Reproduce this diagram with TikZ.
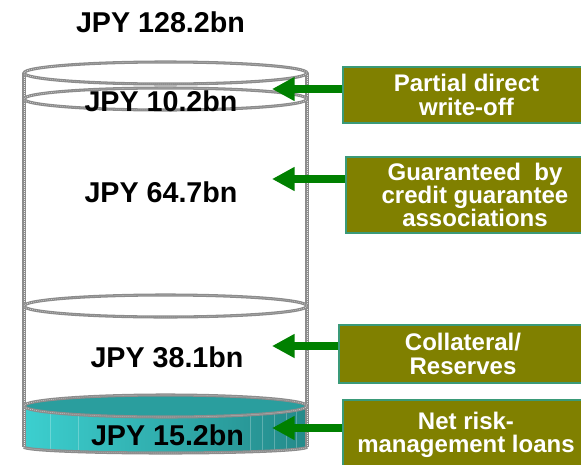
\documentclass[tikz,border=0pt]{standalone}
\usepackage{fontspec}
\setmainfont{Liberation Sans}
\usetikzlibrary{arrows.meta}
\definecolor{olivebox}{HTML}{808000}
\definecolor{boxrim}{HTML}{3A9A78}
\definecolor{arrowgreen}{HTML}{008000}
\definecolor{rimgray}{HTML}{8C8C8C}
\definecolor{discface}{HTML}{2A9E9E}
\definecolor{discleft}{HTML}{3CCFCF}
\definecolor{discright}{HTML}{248A8A}

\begin{document}
\begin{tikzpicture}[x=0.75pt,y=-0.75pt,
  rimline/.style={draw=rimgray, line width=2.3pt,
    postaction={draw=white!80!rimgray, line width=0.4pt, dash pattern=on 0.5pt off 1pt}},
  amount/.style={font=\fontsize{21.5}{24}\selectfont\bfseries, inner sep=0pt},
  tagbox/.style={fill=olivebox, draw=boxrim, line width=1.5pt, text=white,
    align=center, inner sep=0pt, font=\fontsize{18}{17.5}\selectfont\bfseries},
  pointer/.style={draw=arrowgreen, line width=6pt,
    -{Triangle[length=17pt,width=17pt]}}]
\clip (0,0) rectangle (581,464);

% teal disc at the bottom of the cylinder: side band
\fill[left color=discleft, right color=discright]
  (24,406) -- (24,447) arc[start angle=180, end angle=0, x radius=141.5, y radius=6]
  -- (307,406) arc[start angle=0, end angle=180, x radius=141.5, y radius=11] -- cycle;
\begin{scope}
  \clip (24,406) -- (24,447) arc[start angle=180, end angle=0, x radius=141.5, y radius=6]
    -- (307,406) arc[start angle=0, end angle=180, x radius=141.5, y radius=11] -- cycle;
  \foreach \sx in {50,78,250,262,274,286,296}
    \draw[white, opacity=0.25, line width=0.5pt] (\sx,400) -- (\sx,460);
\end{scope}
% top face of the disc
\fill[discface] (165.5,406) ellipse[x radius=141.5, y radius=11];

% cylinder outline
\draw[rimline] (24,73) -- (24,447);
\draw[rimline] (307,73) -- (307,447);
\draw[rimline] (165.5,73) ellipse[x radius=141.5, y radius=11];
\draw[rimline] (165.5,99) ellipse[x radius=141.5, y radius=11];
\draw[rimline] (165.5,306) ellipse[x radius=141.5, y radius=11];
\draw[rimline] (165.5,406) ellipse[x radius=141.5, y radius=11];
\draw[rimline] (24,447) arc[start angle=180, end angle=0, x radius=141.5, y radius=6];

% amounts
\node[amount] (total) at (160.5,22) {JPY 128.2bn};
\node[amount] (a1) at (161,101) {JPY 10.2bn};
\node[amount] (a2) at (161,192) {JPY 64.7bn};
\node[amount] (a3) at (167,357) {JPY 38.1bn};
\node[amount] (a4) at (167.5,435) {JPY 15.2bn};

% category boxes
\node[tagbox, minimum width=185.3pt, minimum height=42pt] (b1) at (466.5,95)
  {Partial direct\\write-off};
\node[tagbox, minimum width=193.5pt, minimum height=57pt] (b2) at (475,195)
  {Guaranteed~ by\\credit guarantee\\associations};
\node[tagbox, minimum width=186pt, minimum height=43.5pt] (b3) at (463,354)
  {Collateral/\\Reserves};
\node[tagbox, minimum width=184.5pt, minimum height=52.5pt] (b4) at (466,435)
  {Net risk-\\management loans};

% arrow tips
\coordinate (t1) at (272,89);
\coordinate (t2) at (272,179);
\coordinate (t3) at (272,346);
\coordinate (t4) at (272,428);

\draw[pointer] (b1.west |- t1) -- (t1);
\draw[pointer] (b2.west |- t2) -- (t2);
\draw[pointer] (b3.west |- t3) -- (t3);
\draw[pointer] (b4.west |- t4) -- (t4);
\end{tikzpicture}
\end{document}
